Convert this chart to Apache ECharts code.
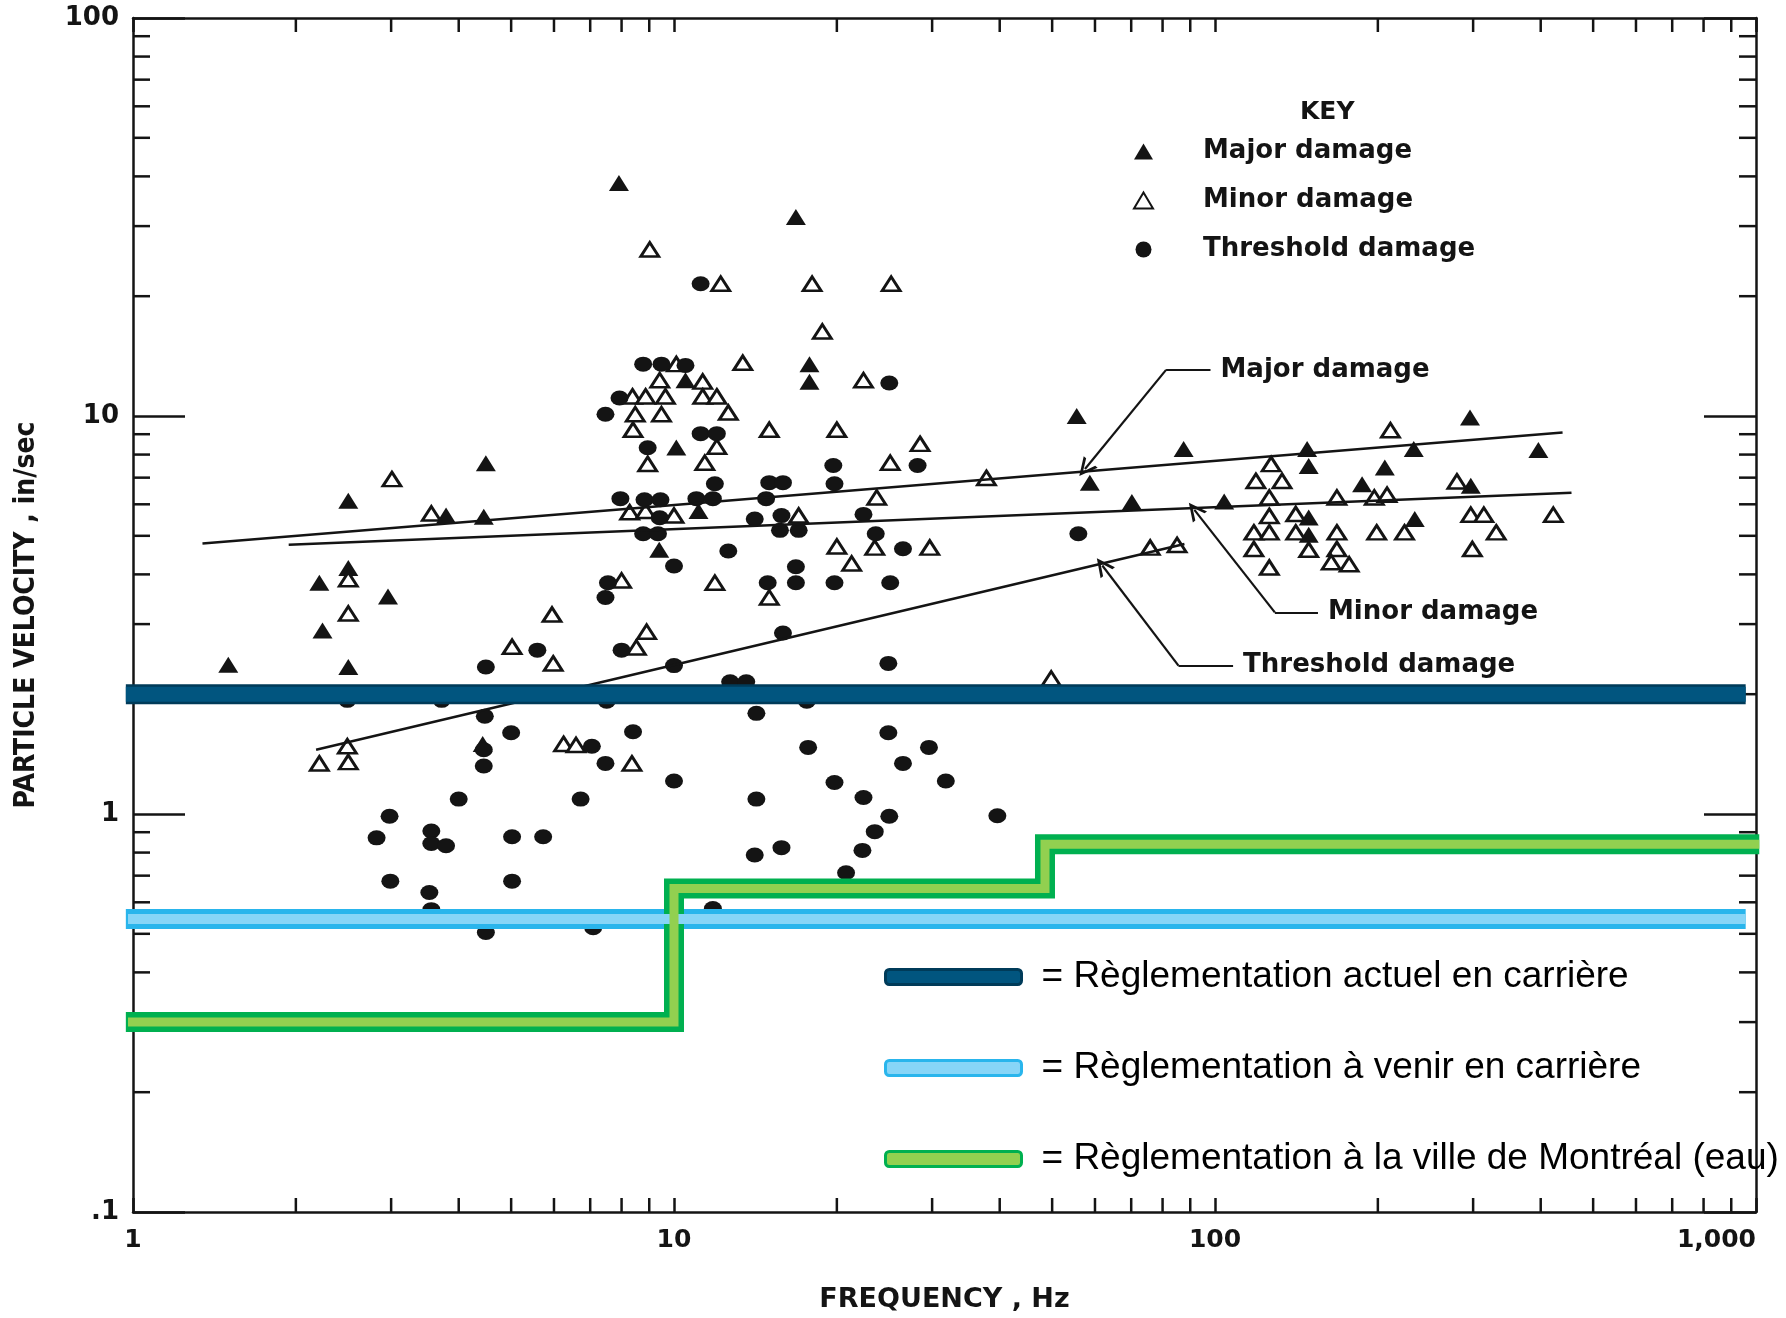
<!DOCTYPE html>
<html><head><meta charset="utf-8">
<script src="https://cdn.jsdelivr.net/npm/echarts@6/dist/echarts.min.js"></script>
<style>html,body{margin:0;padding:0;background:#fff}#c{width:1786px;height:1318px}</style>
</head><body><div id="c"></div>
<script>
// ---- axis ticks ----
const xTickValues = [1, 10, 100, 1000];
const xTickLabels = ['1', '10', '100', '1,000'];
const yTickValues = [0.1, 1, 10, 100];
const yTickLabels = ['.1', '1', '10', '100'];
const xMinorTicks = [2,3,4,5,6,7,8,9,20,30,40,50,60,70,80,90,200,300,400,500,600,700,800,900];
const yMinorTicks = [0.2,0.3,0.4,0.5,0.6,0.7,0.8,0.9,2,3,4,5,6,7,8,9,20,30,40,50,60,70,80,90];

// ---- observations [frequency Hz, particle velocity in/sec] ----
const majorDamage = [[1.50,2.37],[2.21,3.81],[2.24,2.89],[2.50,6.12],[2.50,4.15],[2.50,2.34],[2.96,3.52],[4.49,7.61],[3.79,5.62],[4.45,5.58],[4.43,1.50],[7.91,38.5],[16.8,31.6],[17.8,13.5],[17.8,12.2],[10.5,12.3],[10.1,8.34],[9.39,4.61],[11.1,5.77],[55.5,10.0],[58.7,6.80],[70.2,6.08],[87.5,8.26],[104,6.10],[148,8.26],[149,7.49],[149,5.56],[149,5.03],[187,6.74],[206,7.42],[233,8.26],[234,5.51],[296,9.91],[297,6.68],[396,8.21]];
const minorDamage = [[3.01,6.94],[3.56,5.69],[2.50,3.89],[2.50,3.19],[2.21,1.34],[2.50,1.35],[2.49,1.48],[5.02,2.63],[5.95,3.17],[5.98,2.39],[6.25,1.50],[6.59,1.49],
[9.02,26.2],[12.2,21.5],[18.0,21.5],[25.2,21.5],[18.8,16.3],[10.1,13.5],[13.4,13.6],[9.41,12.3],[11.3,12.2],[22.4,12.3],[8.38,11.2],[8.86,11.2],[9.64,11.2],[11.3,11.2],[12.0,11.2],[8.48,10.1],[9.48,10.1],[12.6,10.2],[8.40,9.23],[15.0,9.23],[20.0,9.23],[28.5,8.51],[12.0,8.37],[8.94,7.58],[11.4,7.63],[25.1,7.63],[37.8,6.99],[23.7,6.24],[8.28,5.73],[8.86,5.77],[10.0,5.62],[17.0,5.62],[20.0,4.70],[23.5,4.67],[29.7,4.67],[21.3,4.26],[8.00,3.86],[11.9,3.81],[15.0,3.50],[8.90,2.87],[8.52,2.62],[8.36,1.34],
[75.9,4.67],[85.1,4.74],[127,7.57],[119,6.87],[133,6.87],[126,6.24],[126,5.61],[141,5.67],[118,5.10],[126,5.10],[141,5.10],[118,4.63],[149,4.61],[126,4.16],[168,6.24],[168,5.10],[168,4.63],[164,4.29],[177,4.24],[197,6.24],[208,6.34],[199,5.10],[224,5.10],[211,9.21],[280,6.85],[297,5.65],[314,5.65],[331,5.10],[299,4.63],[422,5.65],[49.8,2.19]];
const thresholdDamage = [[5.59,2.58],[4.49,2.34],[4.47,1.76],[5.00,1.60],[4.45,1.45],[4.45,1.32],[4.00,1.09],[2.98,0.987],[2.82,0.871],[3.56,0.906],[3.56,0.843],[3.79,0.832],[5.02,0.877],[5.73,0.877],[2.99,0.678],[3.53,0.635],[5.02,0.678],[4.49,0.504],[3.56,0.575],[7.09,0.518],[11.8,0.579],[2.49,1.93],[3.72,1.93],[7.51,1.92],[17.6,1.92],[12.7,2.15],[13.6,2.15],[14.2,1.79],[8.40,1.61],[24.9,1.60],[7.05,1.48],[17.7,1.47],[29.6,1.47],[7.47,1.34],[26.5,1.34],[10.0,1.21],[19.8,1.20],[31.8,1.21],[6.72,1.09],[14.2,1.09],[22.4,1.10],[25.0,0.987],[39.6,0.990],[23.5,0.903],[15.8,0.823],[14.1,0.789],[22.3,0.810],[20.8,0.712],[10.0,2.36],[24.9,2.39],[15.9,2.85],[8.00,2.58],[7.47,3.50],[7.55,3.81],[14.9,3.81],[16.8,3.81],[19.8,3.81],[25.1,3.81],[10.0,4.20],[16.8,4.18],[12.6,4.58],[26.5,4.64],[23.6,5.06],[8.77,5.06],[9.34,5.06],[15.7,5.16],[17.0,5.16],[9.41,5.55],[14.1,5.51],[15.8,5.62],[22.4,5.66],[7.96,6.20],[8.82,6.16],[9.44,6.16],[11.0,6.20],[11.8,6.20],[14.8,6.20],[11.9,6.76],[15.0,6.80],[15.9,6.80],[19.8,6.76],[19.7,7.51],[28.2,7.51],[8.94,8.32],[11.2,9.03],[12.0,9.03],[7.47,10.1],[7.93,11.1],[8.77,13.5],[9.48,13.5],[10.5,13.4],[25.0,12.1],[11.2,21.5],[55.9,5.06]];

// ---- damage level lines ----
const majorDamageLine = [[1.344,4.78],[439,9.09]];
const minorDamageLine = [[1.94,4.75],[456,6.41]];
const thresholdDamageLine = [[2.18,1.45],[87.8,4.77]];

// ---- annotation leaders: [elbow, label end, arrow tip] ----
const leaderNames = ['Major damage', 'Minor damage', 'Threshold damage'];
const leaderElbow = [[81.2,13.06],[129,3.21],[85.6,2.36]];
const leaderEnd = [[98.1,13.06],[155,3.21],[108,2.36]];
const leaderTip = [[57.5,7.36],[91.6,5.81],[61.9,4.21]];

// ---- regulations ----
const regNames = ['Règlementation actuel en carrière', 'Règlementation à venir en carrière', 'Règlementation à la ville de Montréal (eau)'];
const regActuel = [[0.97,2.0],[957,2.0]];
const regVenir = [[0.97,0.545],[957,0.545]];
const regMontreal = [[0.97,0.30],[10,0.30],[10,0.65],[48.5,0.65],[48.5,0.84],[1014,0.84]];
const regFill = ['#01557f', '#87d5f7', '#92d050'];
const regBorder = ['#003b59', '#29b5ec', '#00b050'];

const INK = '#141414';
const SCAN_FONT = 'DejaVu Sans';

function tickFormatter(values, labels) {
  return function (v) {
    for (let i = 0; i < values.length; i++) {
      if (Math.abs(Math.log10(v) - Math.log10(values[i])) < 0.01) return labels[i];
    }
    return '';
  };
}

const axisCommon = {
  type: 'log', logBase: 10,
  axisLine: { show: true, lineStyle: { color: INK, width: 2.5 } },
  splitLine: { show: false },
  minorTick: { show: false },
  axisPointer: { show: false }
};

const chart = echarts.init(document.getElementById('c'), null, { renderer: 'canvas' });

const regData = [regActuel, regVenir, regMontreal];
const regWidths = [[20, 15], [20, 10], [20, 9]];
const regSeries = [];
regData.forEach((d, i) => {
  regSeries.push({
    name: regNames[i] + ' (contour)', type: 'line', data: d, symbol: 'none', clip: false, silent: true,
    lineStyle: { color: regBorder[i], width: regWidths[i][0], cap: 'butt', join: 'miter' },
    z: 4
  });
  regSeries.push({
    name: regNames[i], type: 'line', data: d, symbol: 'none', clip: false, silent: true,
    itemStyle: { color: regFill[i], borderColor: regBorder[i] },
    lineStyle: { color: regFill[i], width: regWidths[i][1], cap: 'butt', join: 'miter' },
    z: 5
  });
});

const regLegendCenters = [977, 1068, 1159];
const regLegends = regNames.map((n, i) => ({
  data: [{ name: n, icon: 'roundRect', itemStyle: { color: regFill[i], borderColor: regBorder[i], borderWidth: 3 } }],
  left: 884, top: regLegendCenters[i] - 21, padding: 0,
  itemWidth: 136, itemHeight: 15, selectedMode: false,
  formatter: nm => '{g|}= ' + nm,
  textStyle: { fontFamily: 'Liberation Sans', fontSize: 37, lineHeight: 42, color: '#000', rich: { g: { width: 15 } } }
}));

const chevron = 'path://M0,20 L10,0 L20,20 L16.5,20 L10,6.5 L3.5,20 Z';

const option = {
  animation: false,
  backgroundColor: '#ffffff',
  grid: { left: 133, right: 30, top: 18, bottom: 106, containLabel: false, outerBoundsMode: 'none' },
  title: { text: 'KEY', left: 1300, top: 100, padding: 0,
    textStyle: { fontFamily: SCAN_FONT, fontSize: 25, fontWeight: 'bold', color: INK } },
  xAxis: [
    Object.assign({}, axisCommon, {
      position: 'bottom', min: 1, max: 1000,
      axisTick: { show: true, inside: true, length: 14, lineStyle: { color: INK, width: 2.5 } },
      axisLabel: { show: true, margin: 16, fontFamily: SCAN_FONT, fontSize: 25, fontWeight: 'bold', color: INK,
        formatter: tickFormatter(xTickValues, xTickLabels), alignMaxLabel: 'right' },
      name: 'FREQUENCY , Hz', nameLocation: 'middle', nameGap: 74,
      nameTextStyle: { fontFamily: SCAN_FONT, fontSize: 27, fontWeight: 'bold', color: INK }
    }),
    Object.assign({}, axisCommon, {
      position: 'top', min: 1, max: 1000,
      axisTick: { show: true, inside: true, length: 14, lineStyle: { color: INK, width: 2.5 } },
      axisLabel: { show: false }
    })
  ],
  yAxis: [
    Object.assign({}, axisCommon, {
      position: 'left', min: 0.1, max: 100,
      axisTick: { show: true, inside: true, length: 52, lineStyle: { color: INK, width: 2.5 } },
      axisLabel: { show: true, margin: 14, fontFamily: SCAN_FONT, fontSize: 26, fontWeight: 'bold', color: INK,
        formatter: tickFormatter(yTickValues, yTickLabels) },
      name: 'PARTICLE VELOCITY , in/sec', nameLocation: 'middle', nameGap: 92,
      nameTextStyle: { fontFamily: 'Liberation Sans Narrow, DejaVu Sans Condensed, sans-serif', fontSize: 28, fontWeight: 'bold', color: INK }
    }),
    Object.assign({}, axisCommon, {
      position: 'right', min: 0.1, max: 100,
      axisTick: { show: true, inside: true, length: 52, lineStyle: { color: INK, width: 2.5 } },
      axisLabel: { show: false }
    })
  ],
  legend: [
    {
      data: ['Major damage', 'Minor damage', 'Threshold damage'],
      orient: 'vertical', left: 1133, top: 136, padding: 0,
      itemWidth: 19, itemHeight: 16, itemGap: 18, selectedMode: false,
      formatter: n => '{g|}' + n,
      textStyle: { fontFamily: SCAN_FONT, fontSize: 26, fontWeight: 'bold', lineHeight: 31, color: INK, rich: { g: { width: 45 } } }
    }
  ].concat(regLegends),
  series: [
    {
      name: 'x minor ticks', type: 'custom', silent: true, z: 3,
      data: xMinorTicks.map(v => [v, 0.1]),
      renderItem: function (params, api) {
        const v = api.value(0);
        const b = api.coord([v, 0.1]);
        const t = api.coord([v, 100]);
        const st = { stroke: INK, lineWidth: 2.5 };
        return { type: 'group', children: [
          { type: 'line', shape: { x1: b[0], y1: b[1], x2: b[0], y2: b[1] - 14 }, style: st },
          { type: 'line', shape: { x1: t[0], y1: t[1], x2: t[0], y2: t[1] + 14 }, style: st }
        ] };
      }
    },
    {
      name: 'y minor ticks', type: 'custom', silent: true, z: 3,
      data: yMinorTicks.map(v => [1, v]),
      renderItem: function (params, api) {
        const v = api.value(1);
        const l = api.coord([1, v]);
        const r = api.coord([1000, v]);
        const st = { stroke: INK, lineWidth: 2.5 };
        return { type: 'group', children: [
          { type: 'line', shape: { x1: l[0], y1: l[1], x2: l[0] + 17, y2: l[1] }, style: st },
          { type: 'line', shape: { x1: r[0], y1: r[1], x2: r[0] - 17, y2: r[1] }, style: st }
        ] };
      }
    },
    {
      name: 'Major damage', type: 'scatter', data: majorDamage, symbol: 'triangle', symbolSize: [20, 16],
      itemStyle: { color: INK, opacity: 1 }, z: 2
    },
    {
      name: 'Minor damage', type: 'scatter', data: minorDamage, symbol: 'triangle', symbolSize: [18, 14],
      itemStyle: { color: '#ffffff', borderColor: INK, borderWidth: 2.8, opacity: 1 }, z: 2
    },
    {
      name: 'Threshold damage', type: 'scatter', data: thresholdDamage, symbol: 'circle', symbolSize: [18, 15],
      itemStyle: { color: INK, opacity: 1 }, z: 2
    },
    { name: 'Major damage level', type: 'line', data: majorDamageLine, symbol: 'none', silent: true,
      lineStyle: { color: INK, width: 2.5 }, z: 3 },
    { name: 'Minor damage level', type: 'line', data: minorDamageLine, symbol: 'none', silent: true,
      lineStyle: { color: INK, width: 2.5 }, z: 3 },
    { name: 'Threshold damage level', type: 'line', data: thresholdDamageLine, symbol: 'none', silent: true,
      lineStyle: { color: INK, width: 2.5 }, z: 3 },
    {
      name: 'leader labels', type: 'lines', coordinateSystem: 'cartesian2d', silent: true, z: 3,
      symbol: 'none',
      lineStyle: { color: INK, width: 2.2, opacity: 1, curveness: 0 },
      label: { show: true, position: 'end', distance: 10, formatter: '{b}',
        fontFamily: SCAN_FONT, fontSize: 26, fontWeight: 'bold', color: INK },
      data: leaderNames.map((n, i) => ({ name: n, coords: [leaderElbow[i], leaderEnd[i]] }))
    },
    {
      name: 'leader arrows', type: 'lines', coordinateSystem: 'cartesian2d', silent: true, z: 3,
      symbol: ['none', chevron], symbolSize: 18,
      lineStyle: { color: INK, width: 2.2, opacity: 1, curveness: 0 },
      data: leaderNames.map((n, i) => ({ coords: [leaderElbow[i], leaderTip[i]] }))
    }
  ].concat(regSeries)
};

chart.setOption(option);
</script>
</body></html>
